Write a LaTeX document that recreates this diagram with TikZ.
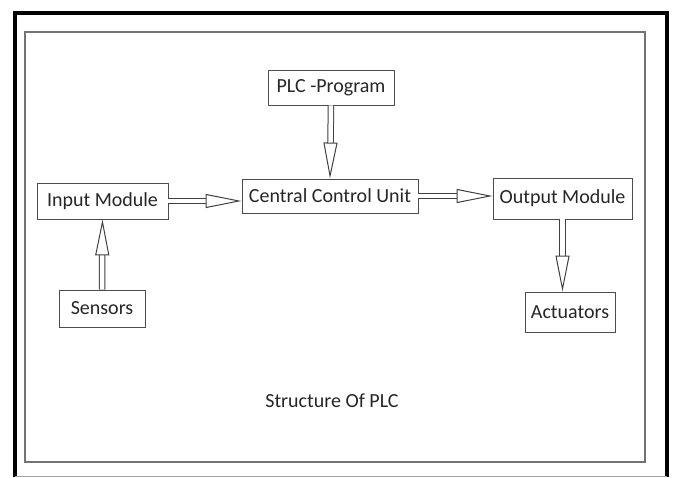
\documentclass[tikz,border=0pt]{standalone}
\usepackage{fontspec}
\setmainfont{Carlito}
\usetikzlibrary{calc,arrows.meta}

\tikzset{
  plcbox/.style={draw=black!70, line width=0.9pt, inner sep=0pt, text=black!85,
    font=\fontsize{20}{23}\selectfont},
  hollow/.style={draw=black!75, line width=1pt, double, double distance=4.5pt,
    -{Triangle[open,length=36pt,width=14pt]}}
}

\begin{document}
\begin{tikzpicture}[x=1pt,y=-1pt]
            \useasboundingbox (0,0) rectangle (675,477);
            % frames
            \draw[line width=4pt] (15,477) -- (15,13) -- (667,13) -- (667,477);
            \draw[black!35, line width=0.8pt] (15,476) -- (667,476);
            \draw[black!55, line width=1.2pt] (25,32) rectangle (645,462);

            \node[plcbox, minimum width=126pt, minimum height=35pt] (prog) at (331,87.5){PLC -Program};
            \node[plcbox, minimum width=131pt, minimum height=36pt] (inmod) at (102.5,201){Input Module};
            \node[plcbox, minimum width=176pt, minimum height=34pt] (ccu) at (330,196){Central Control Unit};
            \node[plcbox, minimum width=139pt, minimum height=41pt] (outmod) at (562.5,198.5){Output Module};
            \node[plcbox, minimum width=86pt, minimum height=37pt] (sens) at (102,308.5){Sensors};
            \node[plcbox, minimum width=90pt, minimum height=40pt] (act) at (570,312){Actuators};
            \node[text=black!85, font=\fontsize{20}{23}\selectfont] (title) at (332,401){Structure Of PLC};

            \draw[hollow] (prog.south) -- (ccu.north);
            \draw[hollow] (inmod.east) -- (inmod.east -| ccu.west);
            \draw[hollow] (ccu.east) -- (ccu.east -| outmod.west);
            \draw[hollow] (sens.north) -- (inmod.south);
            \draw[hollow] (outmod.south) -- (outmod.south |- act.north);
          \end{tikzpicture}
\end{document}
